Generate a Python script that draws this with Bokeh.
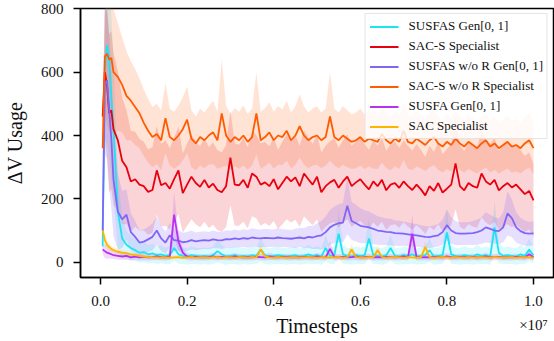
import numpy as np
from bokeh.plotting import figure
from bokeh.models import ColumnDataSource, FixedTicker, CustomJSTickFormatter
from bokeh.embed import file_html
from bokeh.resources import INLINE

# ---------------- data ----------------
steps_early = [0.05, 0.1, 0.15, 0.2, 0.25, 0.3]
timesteps_m = steps_early + [round(0.4 + 0.1 * i, 1) for i in range(97)]  # millions

labels = ["SUSFAS Gen[0, 1]", "SAC-S Specialist", "SUSFAS w/o R Gen[0, 1]",
          "SAC-S w/o R Specialist", "SUSFA Gen[0, 1]", "SAC Specialist"]
colors = ["#1ee3f4", "#e8000f", "#8066f8", "#ff5b00", "#b830f0", "#ffb400"]
band_alpha = [0.16, 0.17, 0.2, 0.17, 0.18, 0.18]

cyan_mean = [50, 600, 685, 640, 520, 425,
             160, 75, 55, 45, 38, 30, 32, 25, 28, 22,
             25, 20, 22, 45, 25, 20, 18, 22, 20, 18,
             20, 18, 22, 35, 25, 18, 20, 22, 18, 20,
             18, 22, 20, 40, 22, 18, 20, 22, 20, 18,
             20, 22, 18, 20, 25, 20, 22, 18, 45, 20,
             22, 90, 25, 20, 18, 22, 20, 22, 75, 22,
             20, 18, 22, 45, 20, 18, 22, 20, 25, 18,
             20, 22, 38, 18, 20, 22, 94, 25, 20, 18,
             22, 20, 18, 25, 20, 22, 18, 110, 30, 20,
             22, 20, 18, 25, 20, 40, 22]
cyan_std = [20, 250, 300, 300, 260, 220,
            120, 60, 45, 38, 34, 32, 32, 30, 30, 28,
            28, 26, 28, 40, 30, 26, 26, 28, 26, 26,
            26, 26, 28, 36, 30, 26, 26, 28, 26, 26,
            26, 28, 26, 38, 28, 26, 26, 28, 26, 26,
            26, 28, 26, 26, 30, 26, 28, 26, 42, 26,
            28, 75, 30, 26, 26, 28, 26, 28, 65, 28,
            26, 26, 28, 40, 26, 26, 28, 26, 30, 26,
            26, 28, 36, 26, 26, 28, 75, 30, 26, 26,
            28, 26, 26, 30, 26, 28, 26, 85, 34, 26,
            28, 26, 26, 30, 26, 36, 28]

red_mean = [460, 600, 560, 470, 480, 420,
            385, 320, 300, 255, 262, 245, 240, 222, 228, 290,
            243, 250, 232, 262, 290, 218, 245, 270, 250, 238,
            260, 236, 248, 228, 221, 240, 330, 245, 243, 260,
            235, 280, 270, 245, 252, 240, 262, 230, 250, 270,
            255, 268, 240, 280, 262, 245, 270, 221, 240, 252,
            260, 235, 255, 270, 240, 252, 262, 245, 230, 255,
            240, 260, 227, 245, 250, 235, 255, 240, 228, 245,
            230, 211, 240, 225, 250, 220, 232, 245, 312, 240,
            227, 250, 240, 235, 280, 255, 245, 260, 227, 240,
            250, 236, 245, 230, 215, 225, 195]
red_std = [40, 200, 230, 250, 250, 240,
           220, 200, 180, 160, 150, 145, 140, 135, 135, 140,
           130, 135, 128, 132, 138, 125, 130, 135, 130, 128,
           132, 128, 130, 126, 125, 130, 150, 130, 128, 132,
           128, 135, 132, 130, 128, 126, 132, 125, 130, 134,
           130, 134, 128, 136, 132, 128, 134, 125, 128, 130,
           132, 126, 130, 134, 128, 130, 132, 128, 125, 130,
           128, 132, 125, 128, 130, 126, 130, 128, 125, 128,
           125, 122, 128, 124, 130, 122, 126, 128, 145, 128,
           124, 130, 128, 126, 138, 130, 128, 132, 124, 128,
           130, 126, 128, 124, 120, 122, 115]

purple_mean = [100, 560, 575, 480, 390, 260,
               160, 135, 150, 95, 80, 62, 65, 72, 80, 100,
               75, 62, 85, 70, 68, 63, 65, 70, 66, 68,
               70, 68, 72, 70, 69, 73, 72, 75, 73, 76,
               74, 78, 76, 75, 77, 76, 75, 78, 76, 75,
               74, 76, 78, 75, 80, 78, 82, 85, 95, 110,
               118, 123, 125, 178, 130, 123, 115, 112, 110, 105,
               100, 98, 96, 95, 92, 91, 90, 88, 86, 85,
               82, 80, 79, 82, 85, 95, 117, 100, 92, 90,
               90, 91, 92, 95, 100, 110, 105, 100, 98, 110,
               154, 139, 110, 98, 92, 90, 91]
purple_std = [20, 220, 250, 240, 220, 180,
              120, 90, 80, 60, 50, 40, 38, 40, 42, 45,
              40, 35, 38, 35, 32, 30, 30, 30, 28, 28,
              28, 27, 28, 26, 27, 28, 27, 28, 27, 28,
              28, 29, 28, 28, 29, 28, 28, 29, 28, 28,
              28, 30, 30, 32, 34, 36, 40, 45, 50, 55,
              58, 60, 62, 90, 60, 58, 55, 52, 50, 48,
              45, 44, 42, 42, 40, 40, 38, 38, 36, 36,
              35, 34, 34, 35, 36, 40, 50, 42, 38, 36,
              36, 36, 38, 40, 42, 48, 45, 42, 40, 48,
              70, 60, 48, 42, 40, 38, 38]

orange_mean = [360, 650, 658, 640, 645, 600,
               585, 560, 525, 510, 490, 470, 440, 415, 395, 405,
               385, 455, 395, 385, 400, 420, 450, 390, 375, 395,
               385, 400, 410, 385, 470, 400, 380, 395, 385, 400,
               380, 395, 470, 385, 395, 410, 385, 400, 395, 415,
               385, 400, 430, 400, 385, 395, 400, 385, 395, 460,
               395, 385, 400, 390, 380, 385, 395, 380, 390, 385,
               380, 405, 385, 375, 390, 380, 415, 380, 375, 390,
               380, 370, 385, 395, 375, 365, 380, 370, 390, 375,
               365, 380, 370, 360, 375, 385, 365, 375, 360, 370,
               380, 365, 370, 360, 375, 385, 360]
orange_std = [50, 180, 220, 230, 220, 200,
              170, 150, 140, 125, 120, 110, 105, 100, 95, 95,
              95, 110, 90, 90, 95, 100, 105, 90, 85, 90,
              88, 92, 100, 90, 170, 95, 88, 92, 90, 95,
              88, 90, 130, 90, 92, 95, 90, 92, 88, 95,
              88, 92, 100, 92, 88, 90, 92, 88, 90, 140,
              90, 88, 92, 90, 86, 88, 90, 86, 88, 90,
              86, 90, 88, 85, 88, 86, 92, 85, 84, 88,
              84, 82, 86, 88, 84, 82, 86, 84, 88, 84,
              82, 86, 84, 80, 84, 86, 82, 84, 80, 82,
              84, 82, 84, 80, 84, 86, 82]

magenta_mean = [40, 35, 30, 28, 25, 22,
                20, 18, 20, 15, 18, 15, 17, 15, 16, 18,
                16, 15, 18, 150, 65, 30, 18, 15, 17, 15,
                15, 16, 18, 15, 17, 16, 15, 18, 16, 15,
                16, 15, 17, 16, 15, 18, 16, 15, 17, 16,
                15, 16, 15, 17, 16, 15, 18, 16, 15, 42,
                16, 15, 17, 15, 16, 18, 15, 16, 17, 15,
                16, 15, 17, 16, 15, 16, 18, 15, 90, 16,
                15, 16, 15, 17, 16, 15, 18, 16, 15, 17,
                16, 15, 17, 15, 16, 18, 15, 16, 17, 15,
                16, 15, 17, 16, 15, 25, 16]
magenta_std = [15, 22, 20, 16, 14, 12,
               12, 11, 12, 10, 11, 10, 11, 10, 10, 11,
               10, 10, 11, 70, 30, 14, 11, 10, 10, 10,
               10, 10, 11, 10, 10, 10, 10, 11, 10, 10,
               10, 10, 10, 10, 10, 11, 10, 10, 10, 10,
               10, 10, 10, 10, 10, 10, 11, 10, 10, 25,
               10, 10, 10, 10, 10, 11, 10, 10, 10, 10,
               10, 10, 10, 10, 10, 10, 11, 10, 60, 10,
               10, 10, 10, 10, 10, 10, 11, 10, 10, 10,
               10, 10, 10, 10, 10, 11, 10, 10, 10, 10,
               10, 10, 10, 10, 10, 15, 10]

yellow_mean = [100, 70, 55, 48, 42, 38,
               33, 30, 28, 25, 22, 20, 18, 16, 15, 15,
               14, 15, 14, 15, 16, 14, 15, 16, 14, 15,
               15, 14, 16, 15, 14, 16, 15, 14, 16, 15,
               14, 16, 15, 40, 18, 15, 14, 16, 15, 14,
               15, 16, 14, 15, 16, 15, 14, 16, 15, 14,
               15, 16, 14, 15, 40, 16, 15, 14, 16, 15,
               38, 16, 14, 15, 16, 15, 14, 16, 15, 14,
               15, 48, 16, 14, 15, 16, 15, 14, 16, 15,
               14, 16, 15, 14, 16, 15, 14, 16, 15, 14,
               15, 16, 14, 15, 16, 15, 14]
yellow_std = [25, 20, 15, 12, 10, 10,
              9, 8, 8, 8, 7, 7, 7, 6, 6, 6,
              6, 6, 6, 6, 6, 6, 6, 6, 6, 6,
              6, 6, 6, 6, 6, 6, 6, 6, 6, 6,
              6, 6, 6, 18, 7, 6, 6, 6, 6, 6,
              6, 6, 6, 6, 6, 6, 6, 6, 6, 6,
              6, 6, 6, 6, 18, 6, 6, 6, 6, 6,
              16, 6, 6, 6, 6, 6, 6, 6, 6, 6,
              6, 20, 6, 6, 6, 6, 6, 6, 6, 6,
              6, 6, 6, 6, 6, 6, 6, 6, 6, 6,
              6, 6, 6, 6, 6, 6, 6]

means = [cyan_mean, red_mean, purple_mean, orange_mean, magenta_mean, yellow_mean]
stds = [cyan_std, red_std, purple_std, orange_std, magenta_std, yellow_std]

y_ticks = [0, 200, 400, 600, 800]
x_ticks = [0, 2e6, 4e6, 6e6, 8e6, 1e7]

# ---------------- figure ----------------
FONT = "Liberation Serif"
x = np.array(timesteps_m) * 1e6

p = figure(width=554, height=341, output_backend="svg", toolbar_location=None,
           x_range=(-4.62e5, 1.0462e7), y_range=(-48.3, 801),
           min_border_left=80, min_border_right=1, min_border_top=8, min_border_bottom=64)
p.xgrid.visible = False
p.ygrid.visible = False
p.outline_line_color = "black"
p.outline_line_width = 1.5
p.background_fill_color = "white"

for m, s, c, a in zip(means, stds, colors, band_alpha):
    m = np.array(m, dtype=float)
    s = np.array(s, dtype=float)
    src = ColumnDataSource(dict(x=x, lo=m - s, hi=m + s))
    p.varea(x="x", y1="lo", y2="hi", source=src, fill_color=c, fill_alpha=a)

for m, c, lab in zip(means, colors, labels):
    src = ColumnDataSource(dict(x=x, y=m))
    p.line(x="x", y="y", source=src, line_color=c, line_width=1.8, legend_label=lab)

for ax in (p.xaxis[0], p.yaxis[0]):
    ax.axis_line_width = 1.5
    ax.axis_line_color = "black"
    ax.major_tick_line_width = 1.5
    ax.major_tick_line_color = "black"
    ax.major_tick_out = 7
    ax.major_tick_in = 0
    ax.minor_tick_line_color = None
    ax.major_label_text_font = FONT
    ax.major_label_text_font_size = "15px"
    ax.major_label_text_color = "#111111"
    ax.axis_label_text_font = FONT
    ax.axis_label_text_font_size = "20px"
    ax.axis_label_text_font_style = "normal"
    ax.axis_label_text_color = "#111111"

p.yaxis[0].ticker = FixedTicker(ticks=y_ticks)
p.yaxis[0].axis_label = "ΔV Usage"
p.yaxis[0].major_label_standoff = 10
p.yaxis[0].axis_label_standoff = 12

p.xaxis[0].ticker = FixedTicker(ticks=x_ticks)
p.xaxis[0].formatter = CustomJSTickFormatter(
    code="var s = (tick / 1e7).toFixed(1); return tick >= 1e7 ? s + '\\n\u00d710\u2077' : s;")
p.xaxis[0].major_label_text_line_height = 1.5
p.xaxis[0].axis_label = "Timesteps"
p.xaxis[0].major_label_standoff = 8
p.xaxis[0].axis_label_standoff = -21

lg = p.legend[0]
lg.location = "top_right"
lg.margin = 5
lg.padding = 4
lg.spacing = 4
lg.glyph_width = 29
lg.glyph_height = 15
lg.label_height = 15
lg.label_standoff = 10
lg.label_text_font = FONT
lg.label_text_font_size = "13px"
lg.label_text_color = "#111111"
lg.border_line_color = "#cccccc"
lg.border_line_width = 1
lg.background_fill_alpha = 0.8

open("out.html", "w").write(file_html(p, INLINE))
